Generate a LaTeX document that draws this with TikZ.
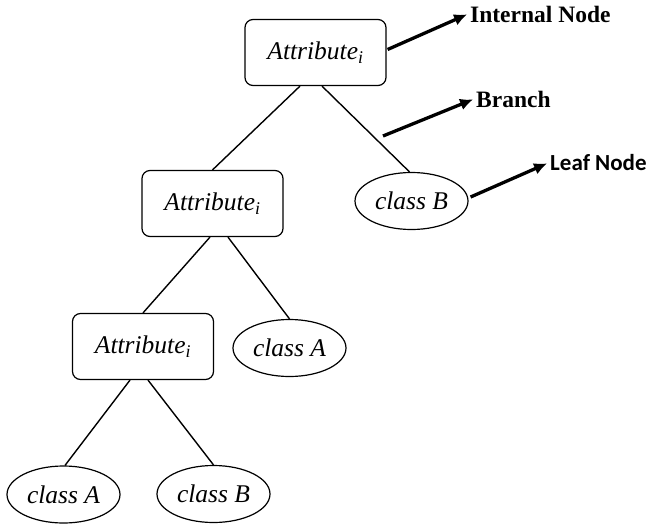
\documentclass[tikz,border=0pt]{standalone}
\usepackage{fontspec}
\setmainfont{Liberation Serif}
\newfontfamily\labelsans{Carlito}
\usetikzlibrary{shapes.geometric,arrows.meta}

\tikzset{
  attrbox/.style={draw, line width=1.2pt, rounded corners=8pt, minimum width=141pt,
    minimum height=66pt, inner sep=0pt, font=\fontsize{25.5}{28}\selectfont\itshape},
  leaf/.style={draw, ellipse, line width=1.2pt, minimum width=113pt, minimum height=57pt,
    inner sep=0pt, font=\fontsize{25.5}{28}\selectfont\itshape},
  branchline/.style={line width=1.4pt},
  callout/.style={line width=3.3pt, -{Latex[length=13pt,width=12pt]}, shorten >=1pt},
  tag/.style={anchor=west, inner sep=2pt, font=\fontsize{23.5}{26}\selectfont\bfseries},
}

\begin{document}
\begin{tikzpicture}[x=1pt, y=-1pt]
  \useasboundingbox (0,0) rectangle (651,525);

  % decision nodes
  \node[attrbox] (top)   at (315.5, 52.5)  {Attribute\textsubscript{i}};
  \node[attrbox] (mid)   at (212.5, 203.5) {Attribute\textsubscript{i}};
  \node[attrbox] (low)   at (143, 346.5)   {Attribute\textsubscript{i}};

  % leaves
  \node[leaf] (leafB1) at (411.5, 201)   {class B};
  \node[leaf] (leafA1) at (289.5, 348)   {class A};
  \node[leaf] (leafA2) at (63.5, 494.5)  {class A};
  \node[leaf] (leafB2) at (213.5, 494)   {class B};

  % branches
  \draw[branchline] ([xshift=-15.5pt]top.south) -- (mid.north);
  \draw[branchline] ([xshift=6.5pt]top.south)   -- ([xshift=-2pt]leafB1.north);
  \draw[branchline] ([xshift=-2.5pt]mid.south)  -- (low.north);
  \draw[branchline] ([xshift=15.5pt]mid.south)  -- (leafA1.north);
  \draw[branchline] ([xshift=-13pt]low.south)   -- ([xshift=1.5pt]leafA2.north);
  \draw[branchline] ([xshift=5pt]low.south)     -- (leafB2.north);

  % legend labels
  \node[tag] (tInternal) at (468, 14)  {Internal Node};
  \node[tag] (tBranch)   at (474, 99)  {Branch};
  \node[tag, font=\fontsize{23}{26}\selectfont\labelsans\bfseries] (tLeaf) at (548, 163) {Leaf Node};

  \coordinate (branchStart) at (383, 136);

  % callout arrows
  \draw[callout] ([xshift=1pt,yshift=3pt]top.east) -- (tInternal.west);
  \draw[callout] (branchStart) -- (tBranch.west);
  \draw[callout] ([xshift=2pt,yshift=4pt]leafB1.east) -- (tLeaf.west);
\end{tikzpicture}
\end{document}
